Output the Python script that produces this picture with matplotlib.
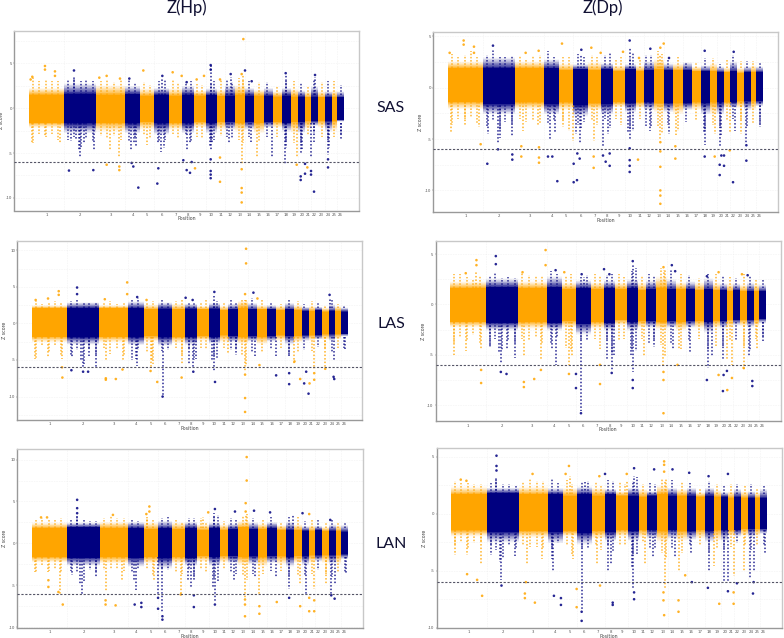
import numpy as np
import matplotlib
matplotlib.use("Agg")
import matplotlib.pyplot as plt

ORANGE = "#FFA500"
NAVY = "#000080"
W, H = 784, 638

chrom_edges = [0,106,202,288,334,376,420,459,494,530,563,587,617,648,675,704,732,759,785,808,829,846,867,889,908,924,945]
chrom_labels = [str(i) for i in range(1, 27)]
tail_x = [12,30,50,68,88,118,135,155,172,192,215,235,255,275,300,318,345,362,390,408,432,448,470,485,505,520,545,555,575,595,610,630,642,660,690,715,745,770,795,815,838,855,878,897,915,935]

# ---- SAS Z(Hp)
p1_box = (14.3, 358.7, 31.0, 210.5)
p1_ylim = (-11.4, 8.6)
p1_yticks = [5, 0, -5, -10]
p1_core_hi = [1.5,1.6,1.5,1.55,1.4,1.5,1.4,1.5,1.4,1.45,1.35,1.4,1.5,1.4,1.4,1.35,1.3,1.4,1.3,1.3,1.2,1.3,1.2,1.25,1.2,1.2]
p1_core_lo = [-1.6,-1.7,-1.6,-1.7,-1.5,-1.7,-1.6,-1.7,-1.5,-1.6,-1.5,-1.5,-1.6,-1.5,-1.6,-1.5,-1.5,-1.6,-1.5,-1.5,-1.4,-1.4,-1.4,-1.4,-1.4,-1.3]
p1_fringe_hi = [2.3,2.8,2.6,2.5,2.2,2.3,2.2,2.5,2.0,2.2,2.1,2.6,2.6,2.3,2.1,2.3,1.9,2.3,2.2,2.0,1.9,2.5,1.9,1.9,2.0,1.9]
p1_fringe_lo = [-2.2,-2.8,-2.6,-2.8,-2.4,-3.0,-2.4,-2.8,-2.2,-2.8,-2.4,-2.4,-2.6,-2.4,-2.8,-2.2,-2.2,-2.6,-2.8,-2.8,-2.4,-2.0,-2.2,-2.6,-2.6,-1.5]
p1_tail_up = [3.5,3.0,3.2,3.0,3.0,3.1,3.6,3.0,3.1,3.0,3.0,3.3,2.9,3.3,3.2,2.8,2.9,2.6,3.0,3.1,3.3,2.8,2.9,3.0,2.7,2.6,2.7,3.0,3.3,3.3,2.9,3.4,3.2,3.0,2.9,2.9,2.5,3.0,3.0,2.8,2.5,3.2,2.9,3.0,3.0,2.6]
p1_tail_down = [-3.9,-2.9,-3.2,-2.9,-3.5,-3.6,-3.2,-4.4,-3.3,-3.8,-3.1,-3.3,-3.1,-3.5,-3.7,-3.2,-3.0,-3.3,-3.7,-3.5,-2.9,-3.3,-3.0,-3.7,-3.2,-3.3,-3.6,-3.6,-3.1,-3.2,-3.4,-3.6,-3.9,-3.2,-3.7,-3.2,-3.2,-3.8,-3.9,-3.9,-3.0,-2.8,-3.2,-3.5,-3.2,-3.0]
p1_spike_x = [153,150,125,195,165,140,305,315,320,395,405,388,475,483,545,542,550,600,665,729,768,770,815,818,856,897,900,937,10,49,93,243,271,353,638,683,803,846,545,135,605,400,770,858,643]
p1_spike_z = [-5.6,-4.8,-3.7,-4.8,-3.9,-3.5,-4.8,-3.9,-4.2,-4.9,-4.4,-3.9,-4.7,-4.0,-4.7,-4.2,-3.9,-4.0,-3.8,-5.6,-6.2,-4.4,-5.0,-4.6,-3.8,-5.2,-4.4,-3.6,-3.9,-3.2,-3.9,-4.8,-5.5,-4.1,-6.2,-5.5,-5.4,-5.5,4.8,3.3,3.5,3.3,3.7,3.5,3.8]
p1_point_x = [48,48,78,78,10,5,643,648,638,343,431,458,233,211,503,525,573,273,135,545,545,605,400,770,858,668,473,301,120,193,308,313,328,388,385,463,473,483,498,488,545,545,545,545,638,638,638,638,573,573,233,271,271,803,815,815,828,828,855,897,897,846,846,835]
p1_point_z = [4.7,4.3,4.1,3.6,3.5,3.2,7.7,4.2,3.8,4.2,4.0,3.6,3.6,3.4,3.2,3.6,3.2,3.3,4.2,4.8,4.3,3.8,3.6,3.9,3.7,3.0,2.9,3.3,-6.95,-6.9,-6.1,-6.5,-8.85,-6.7,-8.4,-5.8,-6.9,-7.2,-6.7,-6.0,-5.7,-7.0,-7.4,-7.8,-8.9,-9.4,-10.5,-6.8,-5.5,-8.2,-6.3,-6.5,-6.9,-6.3,-8.0,-7.6,-6.2,-7.3,-9.3,-6.6,-5.7,-7.0,-7.4,-6.6]

# ---- SAS Z(Dp)
p2_box = (433.3, 777.7, 32.3, 212.0)
p2_ylim = (-12.1, 5.4)
p2_yticks = [5, 0, -5, -10]
p2_core_hi = [1.9,1.9,1.9,1.9,1.7,1.8,1.7,1.8,1.6,1.8,1.6,1.7,1.8,1.7,1.7,1.7,1.6,1.6,1.6,1.5,1.5,1.6,1.4,1.5,1.5,1.5]
p2_core_lo = [-1.35,-1.6,-1.4,-1.6,-1.4,-1.7,-1.5,-1.6,-1.4,-1.5,-1.4,-1.4,-1.5,-1.5,-1.5,-1.5,-1.4,-1.5,-1.4,-1.4,-1.4,-1.4,-1.3,-1.3,-1.3,-1.3]
p2_fringe_hi = [2.6,3.0,2.6,2.8,2.4,2.3,2.5,2.4,2.2,2.3,2.2,2.6,2.8,2.4,2.4,2.5,2.1,2.2,2.4,2.1,2.0,2.6,2.0,2.1,2.2,2.1]
p2_fringe_lo = [-2.1,-2.6,-2.1,-2.6,-2.2,-2.8,-2.2,-2.6,-1.9,-2.4,-2.0,-2.2,-2.4,-2.4,-2.6,-2.2,-2.2,-2.6,-2.6,-2.6,-2.0,-2.0,-2.0,-2.2,-2.2,-1.8]
p2_tail_up = [3.3,3.0,3.2,3.6,3.0,3.2,3.7,3.0,3.0,3.1,3.1,2.7,3.1,3.2,3.6,3.0,3.0,3.0,3.3,3.0,3.2,3.0,3.2,3.4,2.8,3.0,2.9,3.4,2.7,3.2,3.2,3.6,3.3,2.8,3.0,2.5,2.5,2.9,2.9,2.3,2.8,3.2,2.6,2.6,2.6,2.4]
p2_tail_down = [-3.6,-3.0,-3.0,-2.8,-3.4,-3.8,-3.2,-4.2,-3.3,-3.6,-3.0,-3.3,-3.2,-3.4,-3.5,-3.2,-3.2,-4.2,-3.6,-3.3,-3.2,-3.6,-3.0,-3.9,-3.0,-3.6,-4.0,-4.2,-3.0,-3.8,-3.8,-3.8,-4.4,-3.6,-4.2,-3.3,-3.1,-4.2,-3.6,-3.9,-3.2,-3.0,-3.2,-3.8,-3.4,-3.6]
p2_spike_x = [545,400,150,155,120,193,305,320,395,385,400,465,480,545,540,605,663,770,768,815,820,860,895,935,10,50,92,225,270,345,375,437,637,683,800,845,880,637]
p2_spike_z = [3.9,3.2,-5.5,-4.9,-4.5,-4.7,-5.0,-4.4,-5.5,-4.5,-3.9,-5.7,-4.5,-5.0,-4.3,-4.2,-4.5,-5.6,-4.4,-5.8,-4.6,-4.2,-5.4,-3.8,-4.4,-3.6,-3.8,-4.2,-3.6,-3.8,-5.2,-5.2,-5.0,-4.6,-4.5,-4.3,-4.5,3.2]
p2_point_x = [47,47,78,78,5,342,647,637,430,458,525,233,272,573,98,220,220,273,273,273,377,377,437,437,570,637,637,637,637,637,637,682,682,800,845,135,545,400,607,770,857,663,118,193,193,150,300,313,328,387,395,388,465,473,485,485,545,545,545,545,770,815,815,828,828,855,895,895,820]
p2_point_z = [4.6,4.2,4.0,3.4,3.4,4.3,4.3,3.9,3.9,3.4,3.5,3.4,3.6,2.9,-5.5,-5.7,-6.7,-5.8,-6.8,-7.3,-7.4,-9.2,-7.8,-6.7,-7.0,-10.0,-10.5,-11.3,-7.7,-6.2,-5.3,-6.9,-5.7,-6.7,-6.1,4.1,4.6,3.7,3.8,3.6,3.5,2.9,-7.4,-7.0,-6.5,-6.0,-6.7,-6.7,-9.1,-9.0,-6.9,-6.4,-6.6,-7.2,-7.6,-6.4,-7.05,-7.6,-8.2,-5.9,-6.7,-8.5,-7.5,-7.6,-6.6,-9.2,-7.1,-5.6,-6.6]

# ---- LAS Z(Hp)
p3_box = (17.3, 362.3, 240.7, 420.0)
p3_ylim = (-13.2, 11.3)
p3_yticks = [10, 5, 0, -5, -10]
p3_core_hi = [2.05,2.1,2.05,2.1,1.9,2.0,1.9,2.0,1.9,2.0,1.8,1.9,2.1,1.9,1.9,1.9,1.8,1.9,1.8,1.7,1.7,1.8,1.6,1.7,1.7,1.6]
p3_core_lo = [-1.8,-1.9,-1.8,-1.9,-1.7,-1.9,-1.8,-1.8,-1.7,-1.8,-1.6,-1.7,-1.8,-1.7,-1.8,-1.7,-1.6,-1.7,-1.7,-1.6,-1.6,-1.6,-1.5,-1.5,-1.5,-1.4]
p3_fringe_hi = [2.5,2.9,2.5,3.0,2.6,2.9,2.7,2.7,2.4,2.8,2.4,2.7,3.1,2.8,2.5,2.5,2.4,2.8,2.5,2.3,2.4,2.3,2.2,2.6,2.4,2.2]
p3_fringe_lo = [-2.6,-2.9,-2.6,-3.0,-2.5,-3.1,-2.7,-3.0,-2.4,-2.8,-2.6,-2.6,-2.8,-2.5,-2.9,-2.5,-2.4,-2.9,-2.6,-2.4,-2.4,-2.2,-2.3,-2.4,-2.2,-1.8]
p3_tail_up = [3.0,2.6,2.8,3.0,2.9,3.0,3.2,2.8,2.8,2.9,2.9,3.0,2.7,2.9,3.3,3.5,2.9,3.0,3.2,2.8,3.0,3.2,2.8,2.9,2.8,3.3,2.7,3.1,2.9,3.2,2.9,3.3,3.4,3.5,3.2,2.8,2.7,3.2,3.0,2.7,3.0,2.8,2.4,3.3,2.6,2.4]
p3_tail_down = [-4.7,-3.0,-4.0,-3.0,-4.5,-4.5,-3.6,-5.6,-3.5,-4.4,-3.4,-4.2,-3.5,-4.4,-5.0,-3.6,-4.0,-5.5,-3.8,-3.7,-3.4,-4.5,-3.7,-5.0,-3.4,-3.5,-4.6,-4.9,-3.3,-3.7,-3.6,-4.4,-5.8,-4.0,-4.0,-3.5,-3.3,-4.3,-4.0,-3.6,-3.8,-3.2,-3.5,-4.0,-3.4,-3.3]
p3_spike_x = [391,153,148,193,120,170,315,310,470,483,490,546,540,610,668,731,770,905,936,10,48,90,222,272,355,360,448,638,586,785,845,878,546,638,891]
p3_spike_z = [-10.0,-5.9,-5.0,-6.0,-4.6,-4.5,-5.8,-4.8,-5.5,-6.0,-4.8,-6.7,-5.0,-4.3,-4.4,-4.5,-4.5,-5.2,-3.5,-4.8,-4.6,-4.8,-5.2,-5.0,-6.0,-5.2,-5.6,-6.5,-4.2,-5.6,-6.2,-5.9,3.8,3.2,3.3]
p3_point_x = [641,641,285,285,80,80,11,48,218,343,460,638,675,638,638,638,91,221,221,251,271,375,448,355,90,681,803,845,845,878,786,135,135,546,891,663,315,481,153,168,118,391,548,731,770,770,828,815,831,903,905,821,483]
p3_point_z = [10.2,8.2,5.6,4.0,4.4,3.9,3.2,3.4,3.3,3.2,3.5,4.0,3.4,-10.2,-12.1,-7.0,-7.4,-7.5,-7.7,-7.6,-6.3,-8.0,-7.4,-6.5,-6.0,-5.7,-7.6,-7.7,-6.8,-6.2,-5.2,4.9,4.0,4.3,3.9,4.2,3.6,3.2,-6.6,-6.6,-6.4,-10.0,-8.0,-7.1,-8.3,-6.8,-9.6,-8.2,-8.2,-7.3,-7.6,-6.6,-6.6]

# ---- LAS Z(Dp)
p4_box = (435.7, 780.7, 241.0, 421.3)
p4_ylim = (-11.6, 6.3)
p4_yticks = [5, 0, -5, -10]
p4_core_hi = [1.6,1.7,1.6,1.7,1.5,1.6,1.5,1.6,1.5,1.6,1.4,1.5,1.6,1.5,1.5,1.5,1.4,1.5,1.4,1.4,1.3,1.4,1.3,1.3,1.3,1.3]
p4_core_lo = [-1.7,-1.8,-1.7,-1.8,-1.6,-1.9,-1.7,-1.8,-1.5,-1.7,-1.6,-1.6,-1.7,-1.6,-1.7,-1.6,-1.6,-1.7,-1.6,-1.6,-1.5,-1.5,-1.5,-1.5,-1.5,-1.4]
p4_fringe_hi = [2.3,2.6,2.3,2.8,2.2,2.4,2.2,2.4,2.2,2.5,2.2,2.4,2.8,2.5,2.2,2.3,2.2,2.6,2.2,2.1,2.1,2.1,2.0,2.2,2.1,2.0]
p4_fringe_lo = [-2.3,-2.6,-2.4,-2.6,-2.3,-3.0,-2.4,-2.6,-2.1,-2.6,-2.3,-2.3,-2.5,-2.3,-2.6,-2.3,-2.4,-2.8,-2.4,-2.4,-2.3,-2.1,-2.2,-2.3,-2.2,-1.9]
p4_tail_up = [3.0,3.0,2.7,2.5,2.8,2.8,3.2,2.6,2.7,2.6,3.1,2.9,2.8,2.8,3.3,3.0,2.8,3.0,2.7,2.9,3.0,2.8,2.9,3.0,3.0,2.7,3.3,3.6,2.8,3.0,2.8,3.6,3.4,3.5,3.0,2.9,2.6,3.0,3.0,2.8,2.7,2.6,3.0,2.8,2.5,2.5]
p4_tail_down = [-3.8,-3.2,-3.6,-3.0,-3.9,-4.2,-3.4,-4.5,-3.6,-3.8,-3.4,-3.6,-3.2,-3.9,-3.8,-3.2,-4.3,-4.6,-3.6,-3.5,-3.4,-4.4,-3.5,-4.8,-3.6,-3.4,-4.6,-4.6,-3.4,-3.9,-3.6,-4.0,-5.2,-3.8,-4.4,-3.6,-3.4,-4.5,-4.2,-4.2,-3.6,-3.5,-4.2,-4.6,-3.4,-3.3]
p4_spike_x = [391,546,540,151,145,118,193,170,315,305,470,483,490,611,668,716,770,816,829,893,937,11,48,92,220,272,355,365,638,580,683,783,843,878,918,546,400,640,78]
p4_spike_z = [-10.6,-6.7,-5.0,-5.8,-4.8,-4.2,-5.3,-4.4,-6.0,-4.5,-5.5,-6.5,-5.0,-4.2,-4.4,-4.8,-6.3,-5.5,-5.5,-5.2,-3.6,-5.0,-4.6,-4.5,-5.2,-5.5,-6.0,-5.2,-6.2,-5.2,-4.5,-5.2,-6.0,-6.5,-4.5,3.9,2.7,3.4,3.2]
p4_point_x = [285,285,78,78,46,216,341,460,638,673,803,873,638,638,638,92,92,220,220,251,271,376,376,448,448,355,680,803,843,878,136,136,546,663,315,476,393,768,890,768,816,829,818,828,904,904,546,546,168,151,483,391]
p4_point_z = [5.4,3.9,4.4,3.9,3.1,3.2,3.2,3.5,3.7,3.3,3.2,3.0,-10.8,-7.5,-6.7,-7.8,-6.5,-7.7,-8.2,-7.4,-6.5,-8.3,-6.9,-7.9,-6.0,-6.9,-6.0,-7.0,-7.3,-6.3,4.8,4.0,4.3,3.9,3.4,3.0,3.0,2.8,2.9,-7.5,-8.6,-8.5,-7.0,-6.6,-7.6,-8.1,-7.5,-8.3,-6.9,-6.7,-6.8,-10.8]

# ---- LAN Z(Hp)
p5_box = (17.3, 362.7, 448.7, 628.0)
p5_ylim = (-10.1, 11.3)
p5_yticks = [10, 5, 0, -5, -10]
p5_core_hi = [1.8,1.9,1.8,1.8,1.7,1.8,1.7,1.8,1.6,1.8,1.6,1.7,1.9,1.7,1.7,1.8,1.6,1.6,1.6,1.5,1.5,1.6,1.5,1.5,1.5,1.4]
p5_core_lo = [-1.6,-1.7,-1.6,-1.7,-1.6,-1.8,-1.6,-1.7,-1.5,-1.6,-1.5,-1.5,-1.6,-1.5,-1.6,-1.5,-1.5,-1.6,-1.5,-1.5,-1.4,-1.4,-1.4,-1.4,-1.4,-1.3]
p5_fringe_hi = [2.5,2.5,2.6,2.6,2.5,2.7,2.5,2.6,2.3,2.5,2.3,2.4,2.7,2.5,2.4,2.6,2.2,2.6,2.3,2.1,2.2,2.1,2.0,2.3,2.2,2.2]
p5_fringe_lo = [-2.3,-2.7,-2.4,-2.8,-2.4,-3.0,-2.4,-2.7,-2.2,-2.7,-2.3,-2.4,-2.6,-2.5,-2.8,-2.4,-2.5,-2.8,-2.4,-2.6,-2.4,-2.2,-2.4,-2.5,-2.5,-1.9]
p5_tail_up = [2.9,3.0,2.9,2.8,3.0,2.9,3.2,2.8,2.7,2.7,3.0,3.3,3.0,3.0,2.9,2.7,3.1,2.8,3.0,3.1,2.9,2.6,3.0,3.0,3.0,2.6,3.2,3.4,2.7,3.0,2.8,3.3,3.5,3.0,2.8,3.2,2.6,3.2,3.2,2.7,2.9,2.9,2.6,2.8,2.4,2.4]
p5_tail_down = [-3.4,-2.7,-3.3,-3.0,-3.5,-3.3,-3.5,-4.5,-3.2,-3.5,-3.2,-3.0,-3.1,-3.3,-3.5,-3.0,-3.0,-3.8,-3.2,-3.2,-3.4,-3.6,-3.2,-4.0,-3.0,-3.4,-4.2,-4.5,-3.0,-3.5,-3.6,-3.8,-4.4,-3.7,-3.6,-3.3,-3.3,-4.0,-3.8,-3.8,-3.6,-3.2,-3.6,-4.0,-3.4,-3.5]
p5_spike_x = [390,150,145,120,190,310,305,475,468,483,547,540,605,668,730,770,818,895,905,938,10,49,85,220,270,365,377,445,638,680,800,844,878,640,345,510,545,135,780]
p5_spike_z = [-8.3,-6.0,-4.8,-3.8,-4.0,-5.6,-4.4,-5.2,-4.5,-4.4,-7.0,-5.2,-4.5,-4.0,-4.0,-5.5,-6.0,-6.1,-4.8,-3.7,-3.4,-3.4,-6.0,-5.8,-4.5,-4.5,-6.2,-6.0,-6.5,-6.0,-5.0,-5.5,-5.0,3.4,3.0,3.2,3.6,3.3,3.4]
p5_point_x = [642,642,639,639,351,351,342,49,49,92,79,220,220,250,377,377,445,637,637,637,680,680,802,844,844,27,45,242,527,809,135,135,135,547,664,712,607,829,892,307,327,327,390,390,484,484,547,732,769,829,829,905,895]
p5_point_z = [10.3,7.5,4.8,3.8,4.4,3.8,3.5,-4.4,-5.2,-7.3,-5.8,-6.8,-7.3,-7.4,-6.5,-7.8,-6.1,-8.7,-6.7,-7.3,-7.5,-8.4,-7.5,-6.8,-8.1,3.1,3.1,3.4,3.7,3.6,5.2,4.2,3.6,4.1,3.9,3.7,3.8,3.5,2.8,-7.3,-7.1,-7.6,-9.1,-8.7,-7.6,-6.2,-7.3,-7.0,-6.5,-8.1,-6.5,-6.6,-6.2]

# ---- LAN Z(Dp)
p6_box = (436.7, 781.7, 448.3, 627.7)
p6_ylim = (-10.0, 5.75)
p6_yticks = [5, 0, -5, -10]
p6_core_hi = [1.7,1.8,1.7,1.7,1.6,1.7,1.6,1.7,1.6,1.6,1.5,1.6,1.7,1.6,1.6,1.6,1.5,1.6,1.5,1.5,1.4,1.5,1.4,1.4,1.4,1.4]
p6_core_lo = [-1.45,-1.6,-1.5,-1.6,-1.5,-1.7,-1.5,-1.6,-1.4,-1.5,-1.4,-1.4,-1.5,-1.4,-1.5,-1.5,-1.4,-1.5,-1.4,-1.4,-1.4,-1.4,-1.3,-1.3,-1.3,-1.3]
p6_fringe_hi = [2.4,2.3,2.4,2.3,2.3,2.4,2.3,2.2,2.0,2.3,2.2,2.0,2.5,2.3,2.2,2.3,1.9,2.3,2.1,1.9,2.0,2.2,2.0,2.0,1.9,2.2]
p6_fringe_lo = [-2.0,-2.5,-2.1,-2.6,-2.0,-2.7,-2.2,-2.4,-2.0,-2.4,-2.1,-2.2,-2.5,-2.2,-2.4,-2.3,-2.2,-2.5,-2.4,-2.4,-2.0,-2.0,-2.0,-2.1,-2.0,-1.8]
p6_tail_up = [2.9,2.7,2.7,2.6,2.6,2.7,3.0,2.6,2.6,2.5,2.8,3.1,2.9,2.9,3.1,2.7,3.0,2.6,2.8,2.9,2.8,2.5,3.0,2.9,2.8,2.6,2.9,3.2,2.6,2.7,2.6,3.1,3.1,3.0,2.8,2.7,2.3,2.9,2.6,2.4,2.6,2.6,2.5,2.6,2.3,2.5]
p6_tail_down = [-2.8,-2.5,-3.0,-2.6,-2.6,-2.8,-3.2,-3.9,-2.8,-3.0,-2.7,-2.9,-2.9,-3.0,-3.0,-2.6,-2.8,-3.6,-3.0,-3.0,-2.8,-3.2,-2.7,-3.3,-2.8,-2.8,-3.6,-3.6,-2.5,-3.0,-3.1,-3.4,-3.9,-3.0,-3.4,-2.8,-2.8,-3.4,-3.0,-3.2,-2.9,-2.6,-2.8,-3.2,-2.8,-2.7]
p6_spike_x = [390,150,146,120,190,305,300,470,478,545,540,605,670,718,770,816,828,895,905,938,10,48,88,225,270,365,437,640,580,680,785,845,875,640,355,525,135,547,400]
p6_spike_z = [-8.4,-5.8,-4.2,-3.6,-3.7,-5.0,-4.0,-5.0,-4.4,-6.5,-4.8,-3.8,-3.8,-3.4,-5.0,-5.9,-6.0,-5.7,-5.0,-3.5,-3.6,-3.6,-4.5,-4.5,-4.0,-4.0,-4.5,-6.5,-4.5,-5.0,-4.6,-5.5,-5.0,3.0,3.3,3.0,3.1,3.3,2.8]
p6_point_x = [637,637,637,352,342,525,243,460,443,28,45,92,220,220,250,223,375,375,445,635,635,637,680,680,802,845,845,77,47,700,135,135,135,547,662,607,712,770,828,307,328,328,390,390,483,483,547,547,768,828,903,150,720,855,905]
p6_point_z = [4.6,4.3,3.7,4.2,3.5,3.5,3.5,3.5,3.3,3.0,2.9,-7.2,-7.0,-7.4,-7.8,-6.0,-8.2,-6.6,-6.3,-7.6,-6.9,-8.9,-7.6,-8.6,-7.9,-7.9,-6.9,-5.8,-5.3,-5.4,5.1,4.2,3.8,4.0,3.9,3.9,3.6,3.3,3.5,-7.2,-7.4,-8.0,-9.4,-8.6,-7.8,-8.0,-7.5,-6.9,-6.5,-6.8,-7.0,-6.3,-6.0,-6.1,-6.0]

threshold = -6

column_titles = ["Z(Hp)", "Z(Dp)"]
row_labels = ["SAS", "LAS", "LAN"]

edges = np.array(chrom_edges, dtype=float)
centers = (edges[:-1] + edges[1:]) / 2


def colour_of(x):
    i = np.clip(np.searchsorted(edges, x, side="right") - 1, 0, 25)
    return ORANGE if i % 2 == 0 else NAVY


def panel(box, ylim, yticks, core_hi, core_lo, fr_hi, fr_lo, t_up, t_down, sx, sz, px, pz):
    L, R, T, B = box
    ax = fig.add_axes([L / W, 1 - B / H, (R - L) / W, (B - T) / H])
    widths = np.diff(edges)
    cols = [ORANGE if i % 2 == 0 else NAVY for i in range(26)]
    chi, clo = np.array(core_hi), np.array(core_lo)
    fhi, flo = np.array(fr_hi), np.array(fr_lo)
    for v in edges[1:-1:2]:
        ax.axvline(v, color="#e6e6e6", lw=0.4, ls=(0, (1, 2)), zorder=0)
    for v in np.arange(-12.5, 12.6, 2.5):
        ax.axhline(v, color="#e6e6e6", lw=0.4, ls=(0, (1, 2)), zorder=0)
    # the tail of each band fades out between the core edge and the fringe edge
    steps = 14
    for k in range(steps):
        f0, f1 = k / steps, (k + 1) / steps
        alpha = 0.85 * (1 - f0) ** 1.3
        ax.bar(edges[:-1], (fhi - chi) * (f1 - f0), bottom=chi + (fhi - chi) * f0,
               width=widths, align="edge", color=cols, alpha=alpha, lw=0, zorder=2)
        ax.bar(edges[:-1], (flo - clo) * (f1 - f0), bottom=clo + (flo - clo) * f0,
               width=widths, align="edge", color=cols, alpha=alpha, lw=0, zorder=2)
    # dotted columns of points reaching out of the band
    for x, up, down in zip(tail_x, t_up, t_down):
        c = colour_of(x)
        ax.vlines(x, chi[0], up, color=c, lw=1.1, alpha=0.8, ls=(0, (1, 1.1)), zorder=3)
        ax.vlines(x, clo[0], down, color=c, lw=1.1, alpha=0.8, ls=(0, (1, 1.1)), zorder=3)
    for x, z in zip(sx, sz):
        start = chi[0] if z > 0 else clo[0]
        ax.vlines(x, start, z, color=colour_of(x), lw=1.1, alpha=0.85, ls=(0, (1, 1.3)), zorder=3)
    ax.bar(edges[:-1], chi - clo, bottom=clo, width=widths,
           align="edge", color=cols, lw=0, zorder=4)
    ax.scatter(px, pz, s=3.5, c=[colour_of(x) for x in px], lw=0, alpha=0.85, zorder=5)
    ax.axhline(threshold, color="#555566", lw=0.8, ls=(0, (2, 1.5)), zorder=6)
    ax.set_xlim(-44, 989)
    ax.set_ylim(*ylim)
    ax.set_xticks(centers, chrom_labels)
    ax.set_yticks(yticks, [str(t) for t in yticks])
    ax.tick_params(labelsize=2.8, length=1, width=0.3, pad=0.6, colors="#555555")
    ax.set_xlabel("Position", fontsize=3.4, labelpad=-0.3, color="#444444")
    ax.set_ylabel("Z score", fontsize=3.4, labelpad=1, color="#444444")
    for s in ax.spines.values():
        s.set_color("#c8c8c8")
        s.set_linewidth(1.0)
    ax.spines["left"].set_color("#999999")
    ax.spines["bottom"].set_color("#999999")
    return ax


fig = plt.figure(figsize=(W / 100, H / 100), dpi=100, facecolor="white")
panel(p1_box, p1_ylim, p1_yticks, p1_core_hi, p1_core_lo, p1_fringe_hi, p1_fringe_lo, p1_tail_up, p1_tail_down, p1_spike_x, p1_spike_z, p1_point_x, p1_point_z)
panel(p2_box, p2_ylim, p2_yticks, p2_core_hi, p2_core_lo, p2_fringe_hi, p2_fringe_lo, p2_tail_up, p2_tail_down, p2_spike_x, p2_spike_z, p2_point_x, p2_point_z)
panel(p3_box, p3_ylim, p3_yticks, p3_core_hi, p3_core_lo, p3_fringe_hi, p3_fringe_lo, p3_tail_up, p3_tail_down, p3_spike_x, p3_spike_z, p3_point_x, p3_point_z)
panel(p4_box, p4_ylim, p4_yticks, p4_core_hi, p4_core_lo, p4_fringe_hi, p4_fringe_lo, p4_tail_up, p4_tail_down, p4_spike_x, p4_spike_z, p4_point_x, p4_point_z)
panel(p5_box, p5_ylim, p5_yticks, p5_core_hi, p5_core_lo, p5_fringe_hi, p5_fringe_lo, p5_tail_up, p5_tail_down, p5_spike_x, p5_spike_z, p5_point_x, p5_point_z)
panel(p6_box, p6_ylim, p6_yticks, p6_core_hi, p6_core_lo, p6_fringe_hi, p6_fringe_lo, p6_tail_up, p6_tail_down, p6_spike_x, p6_spike_z, p6_point_x, p6_point_z)

for txt, x in zip(column_titles, (187, 603)):
    fig.text(x / W, 1 - 8 / H, txt, ha="center", va="center", fontsize=12, family="Lato", color="#111133")
for txt, y in zip(row_labels, (108, 324, 544)):
    fig.text(391 / W, 1 - y / H, txt, ha="center", va="center", fontsize=11.5, family="Lato", color="#111133")

fig.savefig("out.png", dpi=100)
